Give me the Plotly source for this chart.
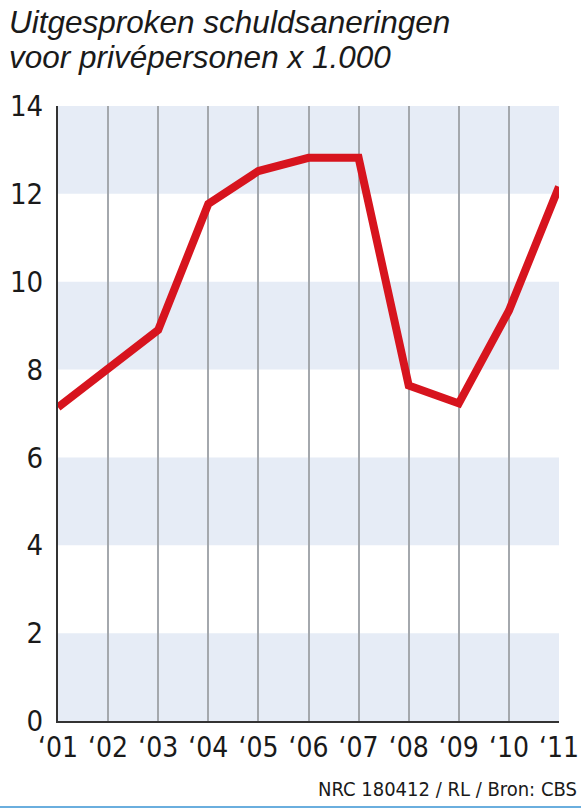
import plotly.graph_objects as go

years = [2001, 2002, 2003, 2004, 2005, 2006, 2007, 2008, 2009, 2010, 2011]
year_labels = ["\u201801", "\u201802", "\u201803", "\u201804", "\u201805", "\u201806",
               "\u201807", "\u201808", "\u201809", "\u201810", "\u201811"]
values = [7.14, 8.02, 8.9, 11.77, 12.52, 12.82, 12.82, 7.64, 7.23, 9.34, 12.16]
y_ticks = [0, 2, 4, 6, 8, 10, 12, 14]
bands = [(0, 2), (4, 6), (8, 10), (12, 14)]
title_lines = ["Uitgesproken schuldsaneringen", "voor privépersonen x 1.000"]
source = "NRC 180412 / RL / Bron: CBS"

COND = "DejaVu Sans Condensed"

PL, PR, PT, PB = 58, 559, 106, 721
W, H = PR - PL, PB - PT


def px(x):
    return (x - PL) / W


def py(y):
    return (PB - y) / H


shapes = []
for lo, hi in bands:
    shapes.append(dict(type="rect", xref="paper", yref="y", x0=0, x1=1, y0=lo, y1=hi,
                       fillcolor="#e6ecf6", line=dict(width=0), layer="below"))
shapes.append(dict(type="line", xref="paper", yref="paper", x0=px(0), x1=px(581),
                   y0=py(807), y1=py(807), line=dict(color="#6aaede", width=2)))

annotations = []
for i, t in enumerate(title_lines):
    annotations.append(dict(text="<i>" + t + "</i>", xref="paper", yref="paper",
                            x=px(7), y=py(22 + 35 * i), xanchor="left", yanchor="middle",
                            showarrow=False, align="left",
                            font=dict(family="Liberation Sans, Arial, sans-serif",
                                      size=31.5, color="#1a1a1a")))
annotations.append(dict(text=source, xref="paper", yref="paper",
                        x=px(579), y=py(789), xanchor="right", yanchor="middle",
                        showarrow=False, font=dict(family=COND, size=20, color="#1a1a1a")))

fig = go.Figure()
fig.add_trace(go.Scatter(x=years, y=values, mode="lines",
                         line=dict(color="#d7141e", width=8), hoverinfo="skip"))

fig.update_layout(
    width=581, height=809,
    margin=dict(l=PL, r=581 - PR, t=PT, b=809 - PB, autoexpand=False),
    paper_bgcolor="white", plot_bgcolor="rgba(0,0,0,0)",
    showlegend=False,
    shapes=shapes,
    annotations=annotations,
)

fig.update_xaxes(range=[2001, 2011], tickvals=years, ticktext=year_labels,
                 showgrid=True, gridcolor="#a4a8ad", gridwidth=1.5,
                 showline=True, linecolor="#333333", linewidth=2, zeroline=False,
                 ticks="", automargin=False,
                 tickfont=dict(family=COND, size=28, color="#1a1a1a"), fixedrange=True)
fig.update_yaxes(range=[0, 14], tickvals=y_ticks, showgrid=False,
                 showline=True, linecolor="#333333", linewidth=2, zeroline=False,
                 ticks="outside", ticklen=0, tickcolor="rgba(0,0,0,0)",
                 ticklabelstandoff=7, automargin=False,
                 tickfont=dict(family=COND, size=29, color="#1a1a1a"), fixedrange=True)

fig.write_html("out.html", config={"displayModeBar": False},
               post_script="document.body.style.margin='0';document.body.style.padding='0';")
